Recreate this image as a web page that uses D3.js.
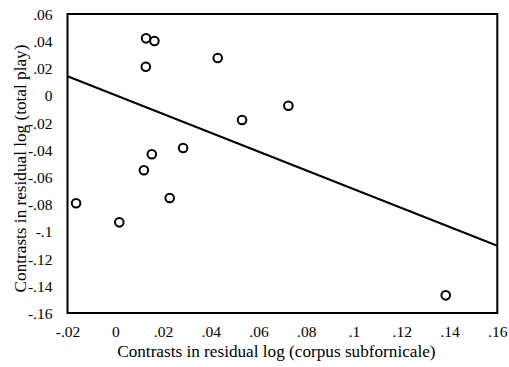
<!DOCTYPE html>
<html>
<head>
<meta charset="utf-8">
<script src="https://cdn.jsdelivr.net/npm/d3@7"></script>
<style>
  html, body { margin: 0; padding: 0; background: #fff; }
  svg { display: block; }
</style>
</head>
<body>
<svg id="chart" width="509" height="367"></svg>
<script>
// ---- data ----
const xValues = [0.0129, 0.0164, 0.0128, 0.0429, 0.0725, 0.0531, 0.0284, 0.0153, 0.0120, -0.0164, 0.0017, 0.0228, 0.1384];
const yValues = [0.0421, 0.0401, 0.0212, 0.0276, -0.0075, -0.0180, -0.0386, -0.0432, -0.0550, -0.0793, -0.0933, -0.0754, -0.1470];
const fitX = [-0.02, 0.16];
const fitY = [0.0142, -0.1105];
const xTicks = [-0.02, 0, 0.02, 0.04, 0.06, 0.08, 0.1, 0.12, 0.14, 0.16];
const xTickLabels = ["-.02", "0", ".02", ".04", ".06", ".08", ".1", ".12", ".14", ".16"];
const yTicks = [0.06, 0.04, 0.02, 0, -0.02, -0.04, -0.06, -0.08, -0.1, -0.12, -0.14, -0.16];
const yTickLabels = [".06", ".04", ".02", "0", "-.02", "-.04", "-.06", "-.08", "-.1", "-.12", "-.14", "-.16"];
const xTitle = "Contrasts in residual log (corpus subfornicale)";
const yTitle = "Contrasts in residual log (total play)";

const FONT = "'Liberation Serif', Tinos, 'Times New Roman', Times, 'DejaVu Serif', serif";

// ---- layout ----
const svg = d3.select("#chart");
const L = 67.5, R = 497.3, T = 14, B = 313;

const x = d3.scaleLinear().domain([-0.02, 0.16]).range([L, R]);
const y = d3.scaleLinear().domain([-0.16, 0.06]).range([B, T]);

// frame
svg.append("rect")
  .attr("x", L).attr("y", T).attr("width", R - L).attr("height", B - T)
  .attr("fill", "none").attr("stroke", "#000").attr("stroke-width", 2);

// axes (labels only)
const xAxis = d3.axisBottom(x).tickValues(xTicks)
  .tickFormat((d, i) => xTickLabels[i]).tickSize(0).tickPadding(0);
const gx = svg.append("g").attr("transform", `translate(0,${B})`).call(xAxis)
  .attr("font-family", FONT).attr("font-size", 15.5);
gx.select(".domain").remove();
gx.selectAll("text").attr("dy", null).attr("y", 24).attr("fill", "#000");

const yAxis = d3.axisLeft(y).tickValues(yTicks)
  .tickFormat((d, i) => yTickLabels[i]).tickSize(0).tickPadding(0);
const gy = svg.append("g").attr("transform", `translate(${L - 15},0)`).call(yAxis)
  .attr("font-family", FONT).attr("font-size", 15.5);
gy.select(".domain").remove();
gy.selectAll("text").attr("dy", "0.35em").attr("x", 0).attr("fill", "#000");

// titles
svg.append("text")
  .attr("x", (L + R) / 2 - 6).attr("y", 357)
  .attr("text-anchor", "middle")
  .attr("font-family", FONT).attr("font-size", 17.2)
  .text(xTitle);

svg.append("text")
  .attr("transform", `translate(26,${(T + B) / 2 + 5}) rotate(-90)`)
  .attr("text-anchor", "middle")
  .attr("font-family", FONT).attr("font-size", 17.2)
  .text(yTitle);

// regression line
svg.append("line")
  .attr("x1", x(fitX[0])).attr("y1", y(fitY[0]))
  .attr("x2", x(fitX[1])).attr("y2", y(fitY[1]))
  .attr("stroke", "#000").attr("stroke-width", 2);

// points
svg.append("g").selectAll("circle")
  .data(xValues.map((v, i) => [v, yValues[i]]))
  .join("circle")
  .attr("cx", d => x(d[0])).attr("cy", d => y(d[1]))
  .attr("r", 4.3)
  .attr("fill", "#fff").attr("stroke", "#000").attr("stroke-width", 2);
</script>
</body>
</html>
